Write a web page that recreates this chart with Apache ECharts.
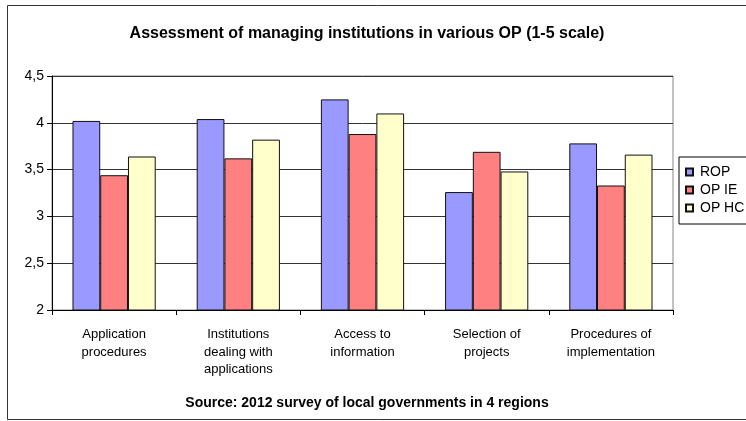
<!DOCTYPE html>
<html>
<head>
<meta charset="utf-8">
<script src="https://cdn.jsdelivr.net/npm/echarts@6/dist/echarts.min.js"></script>
<style>html,body{margin:0;padding:0;background:#fff}#c{width:746px;height:421px}</style>
</head>
<body>
<div id="c"></div>
<script>
var categories = ["Application\nprocedures", "Institutions\ndealing with\napplications", "Access to\ninformation", "Selection of\nprojects", "Procedures of\nimplementation"];
var seriesNames = ["ROP", "OP IE", "OP HC"];
var rop = [4.02, 4.04, 4.25, 3.26, 3.78];
var opIE = [3.44, 3.62, 3.88, 3.69, 3.33];
var opHC = [3.64, 3.82, 4.10, 3.48, 3.66];
var yTicks = [2, 2.5, 3, 3.5, 4, 4.5];

var colors = ["#9999FF", "#FF8080", "#FFFFCC"];
var font = "Liberation Sans, Arial, sans-serif";
var chart = echarts.init(document.getElementById('c'));
var data = [rop, opIE, opHC];
chart.setOption({
  animation: false,
  backgroundColor: '#fff',
  title: [{
    text: 'Assessment of managing institutions in various OP (1-5 scale)',
    left: 362, top: 21, textAlign: 'center',
    textStyle: {fontFamily: font, fontSize: 16, fontWeight: 'bold', color: '#000'}
  }, {
    text: 'Source: 2012 survey of local governments in 4 regions',
    left: 362, top: 391, textAlign: 'center',
    textStyle: {fontFamily: font, fontSize: 14, fontWeight: 'bold', color: '#000'}
  }],
  graphic: [{
    type: 'rect', shape: {x: 7.5, y: 5.5, width: 760, height: 414},
    style: {fill: 'none', stroke: '#333', lineWidth: 1}, silent: true
  }],
  legend: {
    orient: 'vertical', left: 679, top: 157,
    itemWidth: 7, itemHeight: 7, itemGap: 4, icon: 'rect',
    borderColor: '#000', borderWidth: 1, padding: [8, 40, 9, 6],
    textStyle: {fontFamily: font, fontSize: 14, color: '#000', padding: [0, 0, 0, 2]},
    data: seriesNames
  },
  grid: {left: 52, right: 73, top: 76, bottom: 111, show: true, borderColor: '#888', borderWidth: 1, backgroundColor: 'transparent'},
  xAxis: {
    type: 'category', data: categories,
    axisLine: {lineStyle: {color: '#000', width: 1}},
    axisTick: {show: true, length: 5, lineStyle: {color: '#000'}},
    axisLabel: {fontFamily: font, fontSize: 13, color: '#000', lineHeight: 17.5, margin: 16}
  },
  yAxis: {
    type: 'value', min: yTicks[0], max: yTicks[yTicks.length - 1], interval: 0.5,
    axisLine: {show: true, lineStyle: {color: '#000', width: 1}},
    axisTick: {show: true, length: 5, lineStyle: {color: '#000'}},
    axisLabel: {fontFamily: font, fontSize: 14, color: '#000', margin: 8,
      formatter: function (v) { return String(v).replace('.', ','); }},
    splitLine: {show: true, lineStyle: {color: '#333', width: 1}}
  },
  series: seriesNames.map(function (n, i) {
    return {
      name: n, type: 'bar', data: data[i],
      barGap: '0%', barCategoryGap: '33%',
      itemStyle: {color: colors[i], borderColor: '#111', borderWidth: 1}
    };
  })
});
</script>
</body>
</html>
